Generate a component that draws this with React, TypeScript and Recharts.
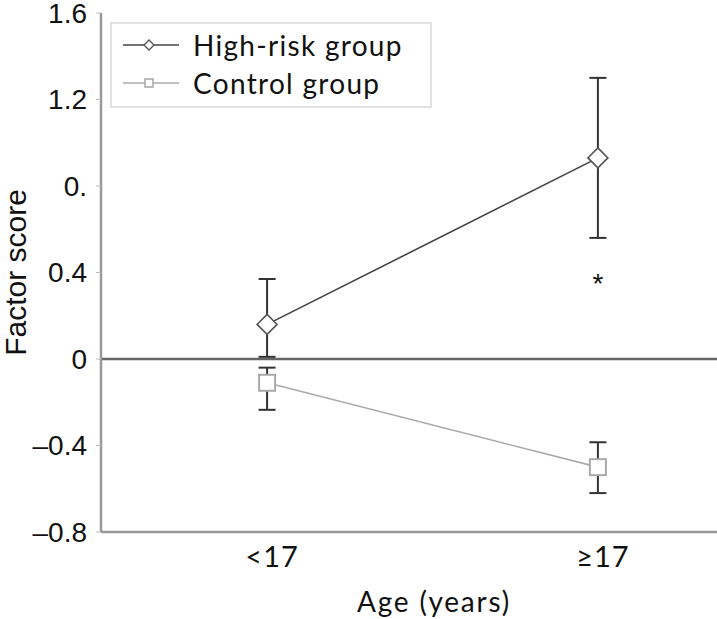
import React from "react";
import {
  LineChart,
  Line,
  XAxis,
  YAxis,
  ErrorBar,
  ReferenceLine,
  ReferenceDot,
} from "recharts";

const categories = ["<17", "≥17"];
const categoryIndex = [1, 2];
const highRiskMean = [0.16, 0.93];
const highRiskLow = [0.01, 0.56];
const highRiskHigh = [0.37, 1.3];
const controlMean = [-0.11, -0.5];
const controlLow = [-0.235, -0.62];
const controlHigh = [-0.04, -0.385];
const yTicks = [-0.8, -0.4, 0, 0.4, 0.8, 1.2, 1.6];
const yTickLabels = ["–0.8", "–0.4", "0", "0.4", "0.", "1.2", "1.6"];
const seriesNames = ["High-risk group", "Control group"];
const asteriskCategory = 2;
const asteriskValue = 0.36;

const data = categories.map((c, i) => ({
  x: categoryIndex[i],
  label: c,
  high: highRiskMean[i],
  highErr: [highRiskMean[i] - highRiskLow[i], highRiskHigh[i] - highRiskMean[i]],
  control: controlMean[i],
  controlErr: [controlMean[i] - controlLow[i], controlHigh[i] - controlMean[i]],
}));

const HIGH_COLOR = "#444";
const CONTROL_COLOR = "#aaa";
const GILL = "Lato, 'Open Sans', sans-serif";
const ARIAL = "'Liberation Sans', Arial, sans-serif";

const Diamond = (props: any) => {
  const { cx, cy } = props;
  if (cx == null || cy == null) return null;
  const r = 10;
  return (
    <polygon
      points={`${cx},${cy - r} ${cx + r},${cy} ${cx},${cy + r} ${cx - r},${cy}`}
      fill="#fff"
      stroke="#555"
      strokeWidth={1.6}
    />
  );
};

const Square = (props: any) => {
  const { cx, cy } = props;
  if (cx == null || cy == null) return null;
  const s = 8;
  return (
    <rect x={cx - s} y={cy - s} width={2 * s} height={2 * s} fill="#fff" stroke={CONTROL_COLOR} strokeWidth={2} />
  );
};

const YTick = (props: any) => {
  const { x, y, payload } = props;
  const idx = yTicks.indexOf(payload.value);
  return (
    <text x={x} y={y} textAnchor="end" dominantBaseline="central" fontFamily={ARIAL} fontSize={28} fill="#111">
      {idx >= 0 ? yTickLabels[idx] : ""}
    </text>
  );
};

const XTick = (props: any) => {
  const { x, y, payload } = props;
  const idx = categoryIndex.indexOf(payload.value);
  return (
    <text x={x + 5} y={y + 27} textAnchor="middle" fontFamily={GILL} fontSize={29} fill="#111" letterSpacing={1}>
      {idx >= 0 ? categories[idx] : ""}
    </text>
  );
};

const XLabel = (props: any) => {
  const { viewBox } = props;
  const cx = viewBox.x + viewBox.width / 2 + 25;
  return (
    <text x={cx} y={612} textAnchor="middle" fontFamily={GILL} fontSize={28} fill="#111" letterSpacing={1.8}>
      Age (years)
    </text>
  );
};

const YLabel = (props: any) => {
  const { viewBox } = props;
  const cy = viewBox.y + viewBox.height / 2;
  const cx = 15;
  return (
    <text
      x={cx}
      y={cy}
      transform={`rotate(-90 ${cx} ${cy})`}
      textAnchor="middle"
      dominantBaseline="central"
      fontFamily={ARIAL}
      fontSize={30}
      fill="#111"
    >
      Factor score
    </text>
  );
};

const AsteriskLabel = (props: any) => {
  const { viewBox } = props;
  const cx = viewBox.x + (viewBox.width || 0) / 2;
  const cy = viewBox.y + (viewBox.height || 0) / 2;
  return (
    <text x={cx} y={cy + 12} textAnchor="middle" fontFamily={ARIAL} fontSize={28} fill="#111">
      *
    </text>
  );
};

const LegendBox = () => (
  <div
    style={{
      position: "absolute",
      left: 110,
      top: 22,
      width: 322,
      height: 86,
      border: "2px solid #e2e2e2",
      boxSizing: "border-box",
      background: "#fff",
    }}
  >
    {seriesNames.map((name, i) => (
      <div key={name} style={{ position: "absolute", left: 10, top: i === 0 ? 3 : 41, height: 36, display: "flex", alignItems: "center" }}>
        <svg width={58} height={20} style={{ display: "block" }}>
          <line x1={1} y1={10} x2={57} y2={10} stroke={i === 0 ? HIGH_COLOR : CONTROL_COLOR} strokeWidth={1.6} />
          {i === 0 ? (
            <polygon points="27,5 32,10 27,15 22,10" fill="#fff" stroke="#555" strokeWidth={1.4} />
          ) : (
            <rect x={23} y={6} width={8} height={8} fill="#fff" stroke={CONTROL_COLOR} strokeWidth={1.6} />
          )}
        </svg>
        <span
          style={{
            marginLeft: 13,
            fontFamily: GILL,
            fontSize: 28,
            letterSpacing: 1.3,
            color: "#111",
            lineHeight: "36px",
            whiteSpace: "nowrap",
          }}
        >
          {name}
        </span>
      </div>
    ))}
  </div>
);

export default function App() {
  return (
    <div style={{ position: "absolute", left: 0, top: 0, width: 717, height: 619, background: "#fff" }}>
      <LineChart width={717} height={619} data={data} margin={{ top: 13, right: 0, bottom: 0, left: 0 }}>
        <XAxis
          dataKey="x"
          type="number"
          domain={[0.498, 2.36]}
          ticks={categoryIndex}
          tick={<XTick />}
          tickLine={false}
          height={87}
          axisLine={{ stroke: "#999", strokeWidth: 2.5 }}
          allowDataOverflow
          label={<XLabel />}
        />
        <YAxis
          type="number"
          domain={[-0.8, 1.6]}
          ticks={yTicks}
          width={101}
          tick={<YTick />}
          tickSize={5}
          tickMargin={9}
          tickLine={{ stroke: "#bbb", strokeWidth: 1 }}
          axisLine={{ stroke: "#999", strokeWidth: 2.5 }}
          label={<YLabel />}
        />
        <ReferenceLine y={0} stroke="#666" strokeWidth={2.5} />
        <Line
          dataKey="control"
          stroke={CONTROL_COLOR}
          strokeWidth={1.6}
          dot={<Square />}
          activeDot={false}
          isAnimationActive={false}
        >
          <ErrorBar dataKey="controlErr" direction="y" width={8.5} stroke="#333" strokeWidth={2} />
        </Line>
        <Line
          dataKey="high"
          stroke={HIGH_COLOR}
          strokeWidth={1.6}
          dot={<Diamond />}
          activeDot={false}
          isAnimationActive={false}
        >
          <ErrorBar dataKey="highErr" direction="y" width={8.5} stroke="#333" strokeWidth={2} />
        </Line>
        <ReferenceDot x={asteriskCategory} y={asteriskValue} r={0} fill="none" stroke="none" label={<AsteriskLabel />} />
      </LineChart>
      <LegendBox />
    </div>
  );
}
